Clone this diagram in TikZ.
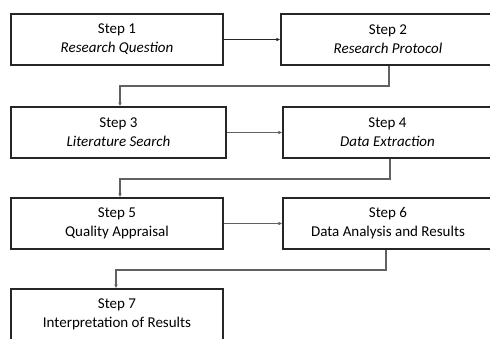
\documentclass[tikz,border=0pt]{standalone}
\usepackage{fontspec}
\setmainfont{Carlito}
\usetikzlibrary{arrows.meta}
\begin{document}
\begin{tikzpicture}[x=1pt,y=-1pt,
  stepbox/.style={draw=black!85,line width=1.1pt,rectangle,inner sep=0pt,
    minimum height=51pt,align=center,font=\fontsize{15}{19}\selectfont},
  conn/.style={draw=black!62,line width=1.1pt,-{Latex[length=4pt,width=3.5pt]}},
  conndark/.style={conn,draw=black!85}]
\useasboundingbox (0,0) rectangle (490,338);
\clip (0,0) rectangle (490,338);
\fill[white] (0,0) rectangle (490,338);
\node[stepbox,minimum width=212pt] (b1) at (117,39.5) {Step 1\\\textit{Research Question}};
\node[stepbox,minimum width=214pt] (b2) at (388,39.5) {Step 2\\\textit{Research Protocol}};
\node[stepbox,minimum width=215pt] (b3) at (118.5,132.5) {Step 3\\\textit{Literature Search}};
\node[stepbox,minimum width=209pt] (b4) at (387.5,132.5) {Step 4\\\textit{Data Extraction}};
\node[stepbox,minimum width=212pt] (b5) at (117,223.5) {Step 5\\Quality Appraisal};
\node[stepbox,minimum width=210pt] (b6) at (388,223.5) {Step 6\\Data Analysis and Results};
\node[stepbox,minimum width=212pt] (b7) at (117,314.5) {Step 7\\Interpretation of Results};
\coordinate (c23a) at (389,86);
\coordinate (c23b) at (120,86);
\coordinate (c45a) at (390,179);
\coordinate (c45b) at (120,179);
\coordinate (c67a) at (386,270);
\coordinate (c67b) at (116,270);
\draw[conndark] (b1.east) -- (b2.west);
\draw[conn] (b3.east) -- (b4.west);
\draw[conn] (b5.east) -- (b6.west);
\draw[conn] (c23a |- b2.south) -- (c23a) -- (c23b) -- (c23b |- b3.north);
\draw[conn] (c45a |- b4.south) -- (c45a) -- (c45b) -- (c45b |- b5.north);
\draw[conn] (c67a |- b6.south) -- (c67a) -- (c67b) -- (c67b |- b7.north);
\end{tikzpicture}
\end{document}
